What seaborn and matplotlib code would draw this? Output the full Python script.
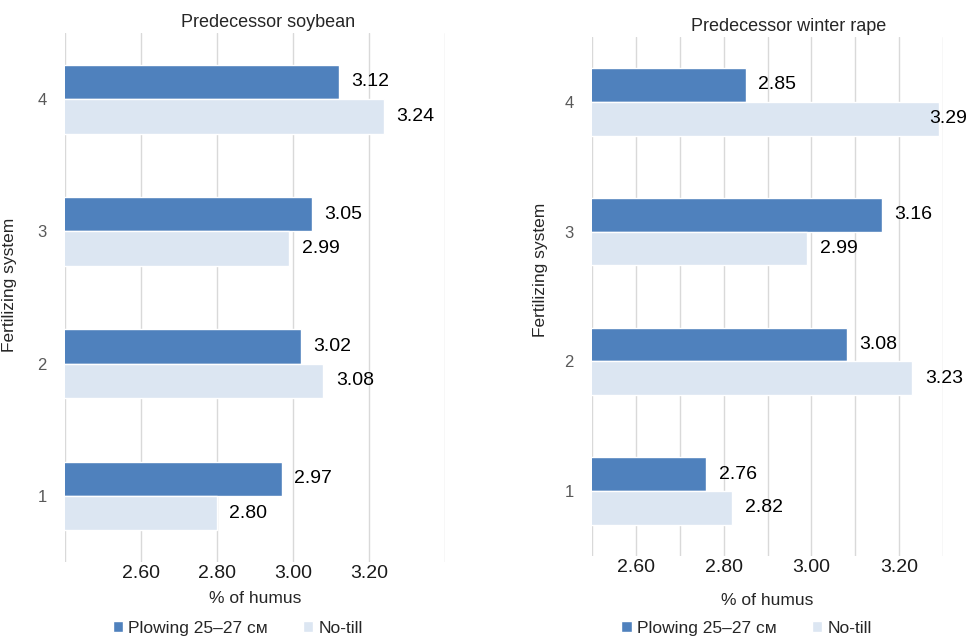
import seaborn as sns
import pandas as pd
import numpy as np
import matplotlib.pyplot as plt
from matplotlib.patches import Patch

sns.set_style("white")
plt.rcParams['font.family'] = ['Liberation Sans', 'DejaVu Sans']

# data
systems = ["4", "3", "2", "1"]
series = ["Plowing 25\u201327 \u0441\u043c", "No-till"]
soy_plowing = [3.12, 3.05, 3.02, 2.97]
soy_notill = [3.24, 2.99, 3.08, 2.80]
rape_plowing = [2.85, 3.16, 3.08, 2.76]
rape_notill = [3.29, 2.99, 3.23, 2.82]

dark = "#4f81bd"
light = "#dce6f2"
grid_c = "#d9d9d9"


def make_df(plow, notill):
    return pd.DataFrame({
        "system": systems * 2,
        "value": plow + notill,
        "tillage": [series[0]] * 4 + [series[1]] * 4,
    })


fig = plt.figure(figsize=(9.68, 6.41), dpi=100)
ax1 = fig.add_axes([0.0671, 0.1232, 0.3926, 0.8253])
ax2 = fig.add_axes([0.6116, 0.1326, 0.3626, 0.8097])

setups = [
    (ax1, make_df(soy_plowing, soy_notill), "Predecessor soybean", 0.534,
     (2.4, 3.4), np.arange(2.4, 3.41, 0.2), (0.455, -0.125), 0.524, -0.055),
    (ax2, make_df(rape_plowing, rape_notill), "Predecessor winter rape", 0.561,
     (2.5, 3.3), np.arange(2.5, 3.31, 0.1), (0.44, -0.139), 0.551, -0.071),
]

for ax, df, title, tx, xlim, ticks, leg_pos, ly, xly in setups:
    sns.barplot(data=df, y="system", x="value", hue="tillage", order=systems,
                hue_order=series, palette=[dark, light], orient="h",
                width=0.52, gap=0, ax=ax, legend=False, saturation=1)
    for cont in ax.containers:
        texts = ax.bar_label(cont, fmt="%.2f", padding=9, fontsize=14, color="black")
        # label that runs past the plot edge is pulled back over the bar
        for bar, t in zip(cont, texts):
            if bar.get_width() > xlim[1] - 0.03:
                t.xyann = (-7, 0)
    ax.set_xlim(*xlim)
    ax.set_ylim(3.5, -0.5)
    ax.set_xticks(ticks)
    labels = ["%.2f" % t if round(t, 2) in (2.6, 2.8, 3.0, 3.2) else "" for t in ticks]
    ax.set_xticklabels(labels, fontsize=14, color="#1a1a1a")
    ax.tick_params(axis="x", length=0, pad=2)
    ax.tick_params(axis="y", length=0, pad=13, labelsize=12, labelcolor="#595959")
    ax.grid(axis="x", color=grid_c, linewidth=1)
    ax.set_axisbelow(True)
    for s in ax.spines.values():
        s.set_visible(False)
    ax.set_title(title, fontsize=13, pad=4, x=tx)
    ax.set_xlabel("% of humus", fontsize=12.5)
    ax.xaxis.set_label_coords(0.5, xly)
    ax.set_ylabel("Fertilizing system", fontsize=12.5)
    ax.yaxis.set_label_coords(-0.125, ly)
    handles = [Patch(facecolor=dark, label=series[0]),
               Patch(facecolor=light, label=series[1])]
    ax.legend(handles=handles, loc="center", bbox_to_anchor=leg_pos, ncol=2,
              frameon=False, fontsize=12.5, handlelength=0.6, handleheight=0.6,
              handletextpad=0.3, columnspacing=2.0)

fig.savefig("out.png", dpi=100)
